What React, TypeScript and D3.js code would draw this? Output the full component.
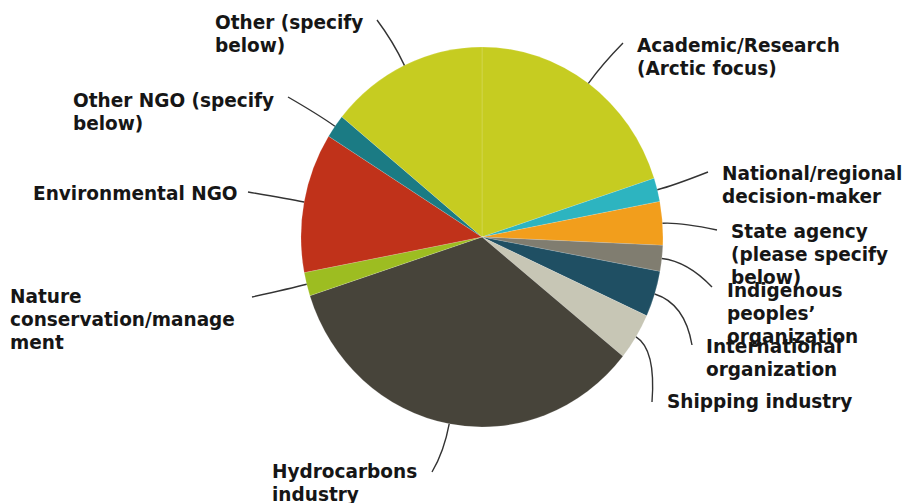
import React from "react";
import * as d3 from "d3";

const categories = [
  "Academic/Research (Arctic focus)",
  "National/regional decision-maker",
  "State agency (please specify below)",
  "Indigenous peoples' organization",
  "International organization",
  "Shipping industry",
  "Hydrocarbons industry",
  "Nature conservation/management",
  "Environmental NGO",
  "Other NGO (specify below)",
  "Other (specify below)",
];
const values = [20, 2, 3.7, 2.2, 3.9, 4, 34.2, 2, 11.9, 2, 14.1];
const colors = [
  "#c6cc21", "#2db4c0", "#f29e1c", "#807d70", "#1f4f63", "#c7c6b5",
  "#47443a", "#9dbd21", "#c0321a", "#1b7b84", "#c6cc21",
];
const labelLines = [
  ["Academic/Research", "(Arctic focus)"],
  ["National/regional", "decision-maker"],
  ["State agency", "(please specify", "below)"],
  ["Indigenous", "peoples\u2019", "organization"],
  ["International", "organization"],
  ["Shipping industry"],
  ["Hydrocarbons", "industry"],
  ["Nature", "conservation/manage", "ment"],
  ["Environmental NGO"],
  ["Other NGO (specify", "below)"],
  ["Other (specify", "below)"],
];
// label layout: text x, first baseline y, leader end x, leader end y, curvature factor
const labelLayout = [
  [637, 52, 623, 43, 0.45],
  [722, 180, 708, 172, 0.3],
  [731, 238, 717, 230, 0.3],
  [727, 297, 712, 287, 0.45],
  [706, 353, 692, 345, 0.5],
  [667, 408, 652, 402, 0.35],
  [272, 478, 432, 472, 0.55],
  [10, 303, 252, 297, 0.3],
  [33, 200, 248, 192, 0.3],
  [73, 107, 288, 97, 0.35],
  [215, 29, 377, 20, 0.5],
];

const W = 912;
const H = 503;
const cx = 482;
const cy = 237;
const ry = 190;
const rx = 181;
const lineH = 23;
const textStretch = 1.07;

export default function App() {
  const pie = d3.pie<number>().sort(null).startAngle(0).endAngle(2 * Math.PI);
  const arcs = pie(values);
  const arc = d3.arc<d3.PieArcDatum<number>>().innerRadius(0).outerRadius(ry);

  return (
    <svg
      width={W}
      height={H}
      style={{ position: "absolute", left: 0, top: 0, background: "#fff" }}
    >
      <g transform={`translate(${cx},${cy}) scale(${rx / ry},1)`}>
        {arcs.map((a, i) => (
          <path
            key={i}
            d={arc(a) || ""}
            fill={colors[i]}
            stroke="#ffffff"
            strokeOpacity={0.25}
            strokeWidth={0.6}
          />
        ))}
      </g>
      {arcs.map((a, i) => {
        const m = (a.startAngle + a.endAngle) / 2;
        const ux = Math.sin(m);
        const uy = -Math.cos(m);
        const sx = cx + ux * rx;
        const sy = cy + uy * ry;
        const [tx, ty, ex, ey, k] = labelLayout[i];
        const dist = Math.hypot(ex - sx, ey - sy);
        const qx = sx + ux * dist * k;
        const qy = sy + uy * dist * k;
        const p = d3.path();
        p.moveTo(sx, sy);
        p.quadraticCurveTo(qx, qy, ex, ey);
        return (
          <g key={"l" + i}>
            <path d={p.toString()} fill="none" stroke="#333" strokeWidth={1.4} />
            <text
              transform={`translate(${tx},${ty}) scale(1,${textStretch})`}
              fontFamily="DejaVu Sans"
              fontWeight="bold"
              fontSize={18.5}
              fill="#161616"
            >
              {labelLines[i].map((t, j) => (
                <tspan key={j} x={0} y={(j * lineH) / textStretch}>
                  {t}
                </tspan>
              ))}
            </text>
          </g>
        );
      })}
    </svg>
  );
}
